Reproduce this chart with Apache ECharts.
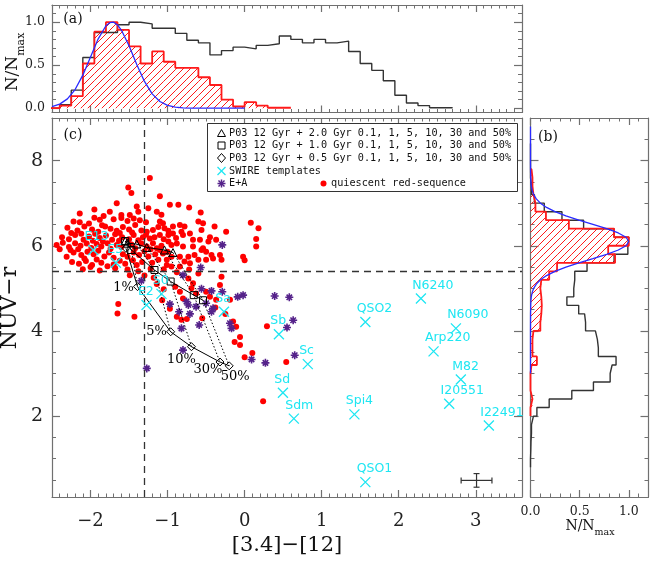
<!DOCTYPE html>
<html>
<head>
<meta charset="utf-8">
<script src="https://cdn.jsdelivr.net/npm/echarts/dist/echarts.min.js"></script>
<style>
  html, body { margin: 0; padding: 0; background: #fff; }
  #chart { width: 654px; height: 565px; }
</style>
</head>
<body>
<div id="chart"></div>
<script>
// ---------- data ----------
// (a) [3.4]-[12] histograms, bins of 0.15 starting at -2.55
const colourBinStart = -2.55, colourBinWidth = 0.15;
const allColour = [0, 0.04, 0.21, 0.59, 0.88, 0.88, 0.97, 1.00, 0.98, 0.93, 0.93, 0.87, 0.79, 0.76, 0.62,
  0.67, 0.71, 0.69, 0.73, 0.75, 0.84, 0.80, 0.76, 0.80, 0.76, 0.78, 0.66, 0.52, 0.44, 0.32, 0.15,
  0.06, 0.03, 0.005, 0.005];
const redColour = [0, 0.03, 0.14, 0.52, 0.89, 1.00, 0.91, 0.72, 0.52, 0.66, 0.54, 0.47, 0.47, 0.36,
  0.27, 0.10, 0.02, 0.07, 0.03, 0.005, 0.005];
const colourFitX = [-2.5, -2.4, -2.3, -2.2, -2.1, -2.0, -1.9, -1.8, -1.75, -1.7, -1.65, -1.6, -1.5, -1.4,
  -1.3, -1.2, -1.1, -1.0, -0.9, -0.8, -0.7, -0.6, -0.4, -0.2, 0.0];
const colourFitY = [0.018, 0.047, 0.108, 0.217, 0.384, 0.595, 0.807, 0.959, 0.994, 1.0, 0.968, 0.909,
  0.726, 0.508, 0.311, 0.167, 0.078, 0.032, 0.012, 0.004, 0.001, 0, 0, 0, 0];

// (b) NUV-r histograms, bins of 0.2
const nuvBinStart = 0.8, nuvBinWidth = 0.2;
const allNuv = [0, 0.003, 0.005, 0.01, 0.01, 0.03, 0.065, 0.19, 0.42, 0.64, 0.81, 0.83, 0.87, 0.69,
  0.68, 0.66, 0.56, 0.55, 0.49, 0.37, 0.44, 0.45, 0.45, 0.575, 0.85, 0.99, 1.0, 0.85, 0.54, 0.32,
  0.14, 0.04, 0.01, 0, 0, 0, 0, 0];
const redNuvStart = 2.0;
const redNuv = [0, 0.02, 0, 0, 0, 0.01, 0.065, 0.02, 0.02, 0.03, 0.10, 0.11, 0.115, 0.11, 0.10, 0.11,
  0.19, 0.27, 0.86, 0.79, 1.0, 0.85, 0.39, 0.157, 0.05, 0.03, 0.02, 0.02, 0.01];
const nuvFitY = [8.8, 8.4, 8.0, 7.8, 7.6, 7.5, 7.4, 7.3, 7.2, 7.1, 7.0, 6.9, 6.8, 6.7, 6.6, 6.5, 6.4,
  6.3, 6.2, 6.1, 6.0, 5.9, 5.8, 5.7, 5.6, 5.5, 5.4, 5.3, 5.2, 5.1, 5.0, 4.9, 4.8, 4.7, 4.6, 4.4, 4.0, 3.5, 3.0];
const nuvFitV = [0, 0, 0, 0.0005, 0.002, 0.004, 0.008, 0.017, 0.032, 0.059, 0.101, 0.163, 0.249, 0.36,
  0.492, 0.635, 0.775, 0.893, 0.972, 1.0, 0.972, 0.893, 0.775, 0.635, 0.492, 0.36, 0.249, 0.163, 0.101,
  0.059, 0.032, 0.017, 0.008, 0.004, 0.002, 0.0005, 0, 0, 0];

// (c) colour-colour diagram
const quiescent = [
  [-1.23,7.59],[-1.51,7.37],[-1.47,7.24],[-1.10,7.16],[-1.66,7.00],[-1.40,6.92],[-0.97,6.96],[-0.86,6.96],
  [-0.72,6.90],[-1.25,6.88],[-1.95,6.85],[-1.38,6.80],[-1.14,6.80],[-0.57,6.78],[-2.14,6.76],[-1.75,6.80],
  [-1.60,6.72],[-1.49,6.72],[-1.08,6.73],[-1.83,6.70],
  [-2.22,6.57],[-2.14,6.55],[-1.88,6.61],[-1.70,6.62],[-1.60,6.65],[-1.52,6.58],[-1.36,6.60],[-1.28,6.55],
  [-1.10,6.57],[-1.06,6.53],[-0.84,6.49],[-0.60,6.57],[-0.54,6.53],[-2.02,6.52],[-1.95,6.66],[-1.44,6.64],[0.08,6.54],
  [-2.30,6.42],[-2.08,6.45],[-1.98,6.38],[-1.90,6.33],[-1.81,6.45],[-1.74,6.40],[-1.66,6.35],[-1.58,6.44],
  [-1.50,6.38],[-1.42,6.49],[-1.34,6.36],[-1.27,6.33],[-1.19,6.37],[-1.04,6.41],[-0.93,6.45],[-0.78,6.45],
  [-0.82,6.33],[-0.71,6.29],[-0.56,6.37],[-0.39,6.45],[-0.24,6.33],[-2.17,6.36],[-1.85,6.48],[-1.62,6.30],
  [-1.46,6.31],[-1.12,6.44],[-0.99,6.35],[0.18,6.41],
  [-2.37,6.20],[-2.28,6.15],[-2.20,6.25],[-2.09,6.14],[-2.02,6.22],[-1.94,6.28],[-1.88,6.18],[-1.80,6.24],
  [-1.72,6.14],[-1.68,6.27],[-1.59,6.20],[-1.50,6.15],[-1.44,6.25],[-1.32,6.20],[-1.23,6.17],[-1.17,6.20],
  [-1.10,6.25],[-0.99,6.25],[-0.93,6.29],[-0.89,6.18],[-0.80,6.25],[-0.67,6.14],[-0.58,6.14],[-0.45,6.20],
  [-0.37,6.14],[-2.12,6.28],[-1.97,6.12],[-1.84,6.10],[-1.63,6.12],[-1.38,6.13],[-1.28,6.26],[-1.05,6.15],
  [-2.25,6.30],[0.15,6.16],
  [-2.44,6.02],[-2.36,6.07],[-2.28,5.97],[-2.20,6.06],[-2.13,6.00],[-2.05,6.05],[-1.99,5.95],[-1.92,6.04],
  [-1.86,5.98],[-1.78,6.06],[-1.74,5.93],[-1.66,6.02],[-1.60,5.97],[-1.47,6.03],[-1.42,5.94],[-1.34,6.05],
  [-1.27,5.98],[-1.19,6.06],[-1.14,5.94],[-0.99,6.10],[-0.95,6.02],[-0.80,5.98],[-0.67,5.98],[-0.54,5.94],
  [-0.47,6.10],[-2.40,5.92],[-1.22,5.92],[-1.08,6.00],[-0.88,6.05],[0.15,5.98],
  [-2.31,5.74],[-2.22,5.84],[-2.16,5.92],[-2.12,5.78],[-2.04,5.86],[-1.96,5.80],[-1.90,5.88],[-1.82,5.75],
  [-1.76,5.84],[-1.58,5.80],[-1.52,5.74],[-1.44,5.84],[-1.37,5.78],[-1.30,5.87],[-1.25,5.75],[-1.10,5.90],
  [-1.06,5.82],[-0.95,5.74],[-0.84,5.74],[-0.73,5.74],[-0.65,5.78],[-0.56,5.90],[-0.50,5.86],[-0.43,5.78],
  [-0.32,5.78],[-0.02,5.74],[-2.08,5.70],[-1.70,5.72],[-1.16,5.80],[-1.00,5.86],[-0.41,5.70],[-2.26,5.90],
  [-2.24,5.62],[-2.15,5.58],[-2.06,5.64],[-1.98,5.55],[-1.92,5.68],[-1.86,5.60],[-1.78,5.52],[-1.62,5.65],
  [-1.55,5.58],[-1.45,5.66],[-1.40,5.55],[-1.33,5.62],[-1.20,5.60],[-1.12,5.67],[-1.01,5.67],[-0.78,5.63],
  [-0.71,5.59],[-0.60,5.67],[-0.50,5.67],[-0.30,5.67],[0.00,5.66],[-0.95,5.51],[-0.84,5.51],[-1.01,5.55],
  [-1.70,5.56],[-2.00,5.50],
  [-2.10,5.45],[-1.88,5.42],[-1.68,5.47],[-1.52,5.44],[-1.49,5.31],[-1.38,5.40],[-1.22,5.46],[-1.05,5.45],
  [-0.88,5.38],[-0.72,5.44],[-0.60,5.35],
  [-1.64,4.63],[-1.65,4.41],[-1.43,4.33],[-1.30,5.30],[-1.18,5.25],[-1.14,5.10],[-1.05,4.98],[-0.90,5.04],
  [-0.84,4.92],[-0.80,4.76],[-0.73,5.23],[-0.67,5.12],[-0.69,5.00],[-0.63,4.88],[-0.88,4.33],[-0.82,4.26],
  [-0.75,4.28],[-0.50,4.92],[-0.45,4.80],[-0.37,4.73],[-0.30,5.27],[-0.32,5.08],[-0.19,4.73],[-0.15,4.22],
  [-0.11,4.10],[-0.06,3.86],[-0.13,3.74],[-0.06,3.67],[0.10,3.48],[0.00,3.38],[0.29,4.11],[0.54,3.27],
  [0.24,2.35],[-1.07,4.72],[-0.97,4.52],[-0.25,4.40],[-0.38,4.55],[-0.55,4.30]
];
const eaPoints = [
  [-0.29,6.02],[-0.57,5.49],[-0.80,5.31],[-1.34,5.18],[-0.56,4.99],[-0.43,4.94],[-0.29,4.92],[-0.09,4.80],
  [-0.02,4.84],[-0.97,4.63],[-0.755,4.69],[-0.73,4.61],[-0.63,4.57],[-0.50,4.65],[-0.41,4.53],[-0.43,4.45],
  [-0.85,4.45],[-0.71,4.40],[-0.59,4.14],[-0.82,4.06],[-0.19,4.18],[-0.17,4.06],[-0.80,3.55],[0.09,3.33],
  [-1.27,3.12],[0.39,4.82],[0.58,4.79],[0.63,4.25],[0.55,4.08],[0.27,3.25],[0.65,3.43]
];
const swireNames = ['E13','E5','E2','S0','Sa','Sb','Sc','Sd','Sdm','Spi4','QSO2','QSO1','N6240','N6090','Arp220','M82','I20551','I22491'];
const swireX = [-1.965,-1.671,-1.273,-1.079,-0.268,0.445,0.820,0.497,0.639,1.425,1.567,1.567,2.288,2.742,2.452,2.806,2.655,3.17];
const swireY = [5.90,5.60,4.61,4.87,4.45,3.92,3.22,2.55,1.94,2.04,4.21,0.45,4.76,4.06,3.52,2.86,2.29,1.78];

// P03 tracks: 0.1, 1, 5, 10, 30, 50 %
const triX = [-1.55,-1.52,-1.40,-1.27,-1.04,-0.93], triY = [6.11,6.06,6.04,5.96,5.90,5.84];
const sqX  = [-1.55,-1.47,-1.17,-0.96,-0.66,-0.54], sqY  = [6.11,5.90,5.43,5.16,4.84,4.72];
const diaX = [-1.54,-1.39,-0.96,-0.69,-0.32,-0.20], diaY = [5.94,5.04,3.98,3.63,3.27,3.18];
const pctNames = ['1%', '5%', '10%', '30%', '50%'];

const errX = 3.01, errY = 0.49, errDx = 0.2, errDy = 0.16;
const colourCut = -1.3, nuvCut = 5.4;

const colourTicks = [-2, -1, 0, 1, 2, 3];
const nuvTicks = [2, 4, 6, 8];
const fracTicks = [0, 0.5, 1.0];

const legendTexts = [
  'P03 12 Gyr + 2.0 Gyr 0.1, 1, 5, 10, 30 and 50%',
  'P03 12 Gyr + 1.0 Gyr 0.1, 1, 5, 10, 30 and 50%',
  'P03 12 Gyr + 0.5 Gyr 0.1, 1, 5, 10, 30 and 50%',
  'SWIRE templates', 'E+A', 'quiescent red-sequence'
];

// ---------- helpers ----------
const SERIF = '"DejaVu Serif", serif';
const SANS = '"DejaVu Sans", sans-serif';
const MONO = '"DejaVu Sans Mono", monospace';
const FRAME = '#707070';
const RED = '#ff1a1a', CYAN = '#1ee6f2', PURPLE = '#55228a', BLUE = '#2a2aff';

function steps(a, b, d) {
  const out = [];
  for (let i = 0; a + i * d <= b + 1e-9; i++) out.push(Math.round((a + i * d) * 1000) / 1000);
  return out;
}
function edges(start, width, n) {
  return steps(start, start + width * n, width);
}
function outline(e, vals) {
  const pts = [[e[0], 0]];
  vals.forEach((v, i) => { pts.push([e[i], v], [e[i + 1], v]); });
  pts.push([e[vals.length], 0]);
  return pts;
}
const minus = v => String(v).replace('-', '\u2212');

const hatchCanvas = (function () {
  const s = 7, c = document.createElement('canvas');
  c.width = s; c.height = s;
  const ctx = c.getContext('2d');
  ctx.strokeStyle = RED;
  ctx.lineWidth = 1;
  ctx.beginPath();
  ctx.moveTo(0, s); ctx.lineTo(s, 0);
  ctx.moveTo(-1, 1); ctx.lineTo(1, -1);
  ctx.moveTo(s - 1, s + 1); ctx.lineTo(s + 1, s - 1);
  ctx.stroke();
  return c;
})();
const hatch = { image: hatchCanvas, repeat: 'repeat' };

function side(dim, grid, pos, min, max, major, minor, label) {
  const len = dim === 'x' ? [7, 3.5] : [8, 4];
  const base = { type: 'value', gridIndex: grid, position: pos, min: min, max: max, splitLine: { show: false } };
  return [
    Object.assign({}, base, {
      axisLine: { show: true, onZero: false, lineStyle: { color: FRAME, width: 1.2 } },
      axisTick: { show: true, inside: true, length: len[0], customValues: major, lineStyle: { color: FRAME, width: 1.2 } },
      axisLabel: label ? Object.assign({ show: true, customValues: major }, label) : { show: false }
    }),
    Object.assign({}, base, {
      axisLine: { show: false, onZero: false },
      axisTick: { show: true, inside: true, length: len[1], customValues: minor, lineStyle: { color: FRAME, width: 1 } },
      axisLabel: { show: false }
    })
  ];
}

const X0 = -2.5, X1 = 3.6, Y0 = 0.1, Y1 = 9.0;
const colourMinor = steps(-2.4, 3.5, 0.1);
const nuvMinor = steps(0.5, 8.5, 0.5);
const fracMinor = steps(0, 1.2, 0.1);

const xAxes = [].concat(
  side('x', 0, 'bottom', X0, X1, colourTicks, colourMinor, null),
  side('x', 0, 'top', X0, X1, colourTicks, colourMinor, null),
  side('x', 1, 'bottom', X0, X1, colourTicks, colourMinor,
    { margin: 15, color: '#222', fontFamily: SERIF, fontSize: 18, formatter: minus }),
  side('x', 1, 'top', X0, X1, colourTicks, colourMinor, null),
  side('x', 2, 'bottom', 0, 1.2, fracTicks, fracMinor,
    { margin: 8, color: '#222', fontFamily: SERIF, fontSize: 12.5, formatter: v => v.toFixed(1) }),
  side('x', 2, 'top', 0, 1.2, fracTicks, fracMinor, null)
);
const yAxes = [].concat(
  side('y', 0, 'left', -0.05, 1.2, fracTicks, fracMinor,
    { margin: 7, color: '#222', fontFamily: SERIF, fontSize: 12.5, formatter: v => v.toFixed(1) }),
  side('y', 0, 'right', -0.05, 1.2, fracTicks, fracMinor, null),
  side('y', 1, 'left', Y0, Y1, nuvTicks, nuvMinor,
    { margin: 9, color: '#222', fontFamily: SERIF, fontSize: 19 }),
  side('y', 1, 'right', Y0, Y1, nuvTicks, nuvMinor, null),
  side('y', 2, 'left', Y0, Y1, nuvTicks, nuvMinor, null),
  side('y', 2, 'right', Y0, Y1, nuvTicks, nuvMinor, null)
);
const A = 0, C = 4, B = 8;   // main axis index of each panel

// ---------- series ----------
const cEdges = edges(colourBinStart, colourBinWidth, allColour.length);
const nEdges = edges(nuvBinStart, nuvBinWidth, allNuv.length);
const rnEdges = edges(redNuvStart, nuvBinWidth, redNuv.length);

const histLine = (data, ax, color, width, z) => ({
  type: 'line', xAxisIndex: ax, yAxisIndex: ax, data: data, symbol: 'none', silent: true,
  lineStyle: { color: color, width: width }, z: z
});

const series = [
  // (a)
  {
    type: 'custom', xAxisIndex: A, yAxisIndex: A, silent: true, z: 1,
    data: redColour.map((v, i) => [cEdges[i], cEdges[i + 1], v]),
    encode: { x: [0, 1], y: 2 },
    renderItem: (params, api) => {
      const p0 = api.coord([api.value(0), 0]);
      const p1 = api.coord([api.value(1), api.value(2)]);
      return { type: 'rect', shape: { x: p0[0], y: p1[1], width: p1[0] - p0[0], height: p0[1] - p1[1] }, style: { fill: hatch } };
    }
  },
  histLine(outline(cEdges, allColour), A, '#333', 1.4, 2),
  histLine(outline(cEdges, redColour), A, RED, 1.8, 3),
  histLine(colourFitX.map((x, i) => [x, colourFitY[i]]), A, BLUE, 1.3, 4),
  // (b)
  {
    type: 'custom', xAxisIndex: B, yAxisIndex: B, silent: true, z: 1,
    data: redNuv.map((v, i) => [rnEdges[i], rnEdges[i + 1], v]),
    encode: { y: [0, 1], x: 2 },
    renderItem: (params, api) => {
      const p0 = api.coord([0, api.value(0)]);
      const p1 = api.coord([api.value(2), api.value(1)]);
      return { type: 'rect', shape: { x: p0[0], y: p1[1], width: p1[0] - p0[0], height: p0[1] - p1[1] }, style: { fill: hatch } };
    }
  },
  histLine(outline(nEdges, allNuv).map(p => [p[1], p[0]]), B, '#333', 1.4, 2),
  histLine(outline(rnEdges, redNuv).map(p => [p[1], p[0]]), B, RED, 1.8, 3),
  histLine(nuvFitY.map((y, i) => [nuvFitV[i], y]), B, BLUE, 1.3, 4),
  // (c)
  {
    type: 'scatter', xAxisIndex: C, yAxisIndex: C, data: quiescent, symbol: 'circle', symbolSize: 6,
    itemStyle: { color: '#ff0000', opacity: 1 }, z: 2, silent: true
  },
  {
    type: 'scatter', xAxisIndex: C, yAxisIndex: C, data: eaPoints, silent: true, z: 3,
    symbol: 'path://M0 5L10 5M5 0L5 10M1.6 1.6L8.4 8.4M8.4 1.6L1.6 8.4', symbolSize: 8,
    itemStyle: { color: 'rgba(0,0,0,0)', borderColor: PURPLE, borderWidth: 1.6, opacity: 1 }
  }
];

// dotted lines joining equal burst fractions
for (let i = 1; i < triX.length; i++) {
  series.push({
    type: 'line', xAxisIndex: C, yAxisIndex: C, symbol: 'none', silent: true, z: 4,
    data: [[triX[i], triY[i]], [sqX[i], sqY[i]], [diaX[i], diaY[i]]],
    lineStyle: { color: '#000', width: 1, type: [1.5, 2] }
  });
}
const track = (xs, ys, sym, size) => ({
  type: 'line', xAxisIndex: C, yAxisIndex: C, silent: true, z: 5,
  data: xs.map((x, i) => [x, ys[i]]), symbol: sym, symbolSize: size, showSymbol: true,
  lineStyle: { color: '#000', width: 1 },
  itemStyle: { color: 'rgba(0,0,0,0)', borderColor: '#000', borderWidth: 1, opacity: 1 }
});
series.push(track(triX, triY, 'triangle', 8));
series.push(track(sqX, sqY, 'rect', 7));
const diaTrack = track(diaX, diaY, 'diamond', 8);
diaTrack.markLine = {
  silent: true, symbol: ['none', 'none'], label: { show: false }, animation: false,
  lineStyle: { color: '#333', width: 1.3, type: [7, 5] },
  data: [{ xAxis: colourCut }, { yAxis: nuvCut }]
};
series.push(diaTrack);

const pctOffsets = [[-14, 1], [-14, 0], [-10, 13], [-12, 8], [6, 11]];
series.push({
  type: 'scatter', xAxisIndex: C, yAxisIndex: C, silent: true, z: 6, symbolSize: 1,
  itemStyle: { color: 'rgba(0,0,0,0)', opacity: 1 },
  data: pctNames.map((n, i) => ({
    name: n, value: [diaX[i + 1], diaY[i + 1]],
    label: { offset: pctOffsets[i] }
  })),
  label: {
    show: true, position: 'inside', formatter: '{b}', color: '#000', textBorderWidth: 0,
    fontFamily: SERIF, fontSize: 13
  }
});

series.push({
  type: 'scatter', xAxisIndex: C, yAxisIndex: C, silent: true, z: 20, zlevel: 1,
  data: swireNames.map((n, i) => ({ name: n, value: [swireX[i], swireY[i]] })),
  symbol: 'path://M0 0L10 10M10 0L0 10', symbolSize: 10,
  itemStyle: { color: 'rgba(0,0,0,0)', borderColor: CYAN, borderWidth: 1.3, opacity: 1 },
  label: {
    show: true, position: [-3, -14], align: 'left', verticalAlign: 'top', formatter: '{b}',
    color: CYAN, textBorderWidth: 0, fontFamily: SANS, fontSize: 12.5
  },
  labelLayout: { hideOverlap: false }
});

series.push({
  type: 'custom', xAxisIndex: C, yAxisIndex: C, silent: true, z: 7,
  data: [[errX, errY, errDx, errDy]], encode: { x: 0, y: 1 },
  renderItem: (params, api) => {
    const x = api.value(0), y = api.value(1), dx = api.value(2), dy = api.value(3);
    const l = api.coord([x - dx, y]), r = api.coord([x + dx, y]);
    const t = api.coord([x, y + dy]), b = api.coord([x, y - dy]);
    const st = { stroke: '#333', lineWidth: 1.2 };
    const ln = (x1, y1, x2, y2) => ({ type: 'line', shape: { x1: x1, y1: y1, x2: x2, y2: y2 }, style: st });
    return {
      type: 'group', children: [
        ln(l[0], l[1], r[0], r[1]), ln(t[0], t[1], b[0], b[1]),
        ln(l[0], l[1] - 3, l[0], l[1] + 3), ln(r[0], r[1] - 3, r[0], r[1] + 3),
        ln(t[0] - 3, t[1], t[0] + 3, t[1]), ln(b[0] - 3, b[1], b[0] + 3, b[1])
      ]
    };
  }
});

// ---------- graphic: legend, titles ----------
const graphic = [];
const gtext = (x, y, text, size, font, extra) => graphic.push(Object.assign({
  type: 'text', x: x, y: y, z: 100,
  style: { text: text, fontSize: size, fontFamily: font, fill: '#111', align: 'center', verticalAlign: 'middle' }
}, extra || {}));

graphic.push({ type: 'rect', z: 90, shape: { x: 207.5, y: 123.5, width: 310, height: 68 },
  style: { fill: '#fff', stroke: '#333', lineWidth: 1 } });
const rowY = [133.5, 145.5, 158, 171, 183.5];
const sx = 221.5;
const ln = (x1, y1, x2, y2, c, w) => graphic.push({ type: 'line', z: 101, shape: { x1: x1, y1: y1, x2: x2, y2: y2 }, style: { stroke: c, lineWidth: w } });
graphic.push({ type: 'polygon', z: 101, shape: { points: [[sx, rowY[0] - 4], [sx + 4, rowY[0] + 3], [sx - 4, rowY[0] + 3]] }, style: { fill: 'none', stroke: '#000', lineWidth: 1 } });
graphic.push({ type: 'rect', z: 101, shape: { x: sx - 3.5, y: rowY[1] - 3.5, width: 7, height: 7 }, style: { fill: 'none', stroke: '#000', lineWidth: 1 } });
graphic.push({ type: 'polygon', z: 101, shape: { points: [[sx, rowY[2] - 4.5], [sx + 4, rowY[2]], [sx, rowY[2] + 4.5], [sx - 4, rowY[2]]] }, style: { fill: 'none', stroke: '#000', lineWidth: 1 } });
ln(sx - 4, rowY[3] - 4, sx + 4, rowY[3] + 4, CYAN, 1.3);
ln(sx + 4, rowY[3] - 4, sx - 4, rowY[3] + 4, CYAN, 1.3);
ln(sx - 4, rowY[4], sx + 4, rowY[4], PURPLE, 1.5);
ln(sx, rowY[4] - 4, sx, rowY[4] + 4, PURPLE, 1.5);
ln(sx - 3, rowY[4] - 3, sx + 3, rowY[4] + 3, PURPLE, 1.5);
ln(sx + 3, rowY[4] - 3, sx - 3, rowY[4] + 3, PURPLE, 1.5);
graphic.push({ type: 'circle', z: 101, shape: { cx: 323.5, cy: rowY[4], r: 3 }, style: { fill: '#ff0000' } });
legendTexts.forEach((t, i) => {
  const x = i < 5 ? 229 : 331;
  const y = rowY[Math.min(i, 4)];
  graphic.push({ type: 'text', x: x, y: y, z: 101,
    style: { text: t, fontSize: 10.2, fontFamily: MONO, fill: '#111', align: 'left', verticalAlign: 'middle' } });
});

gtext(73, 19, '(a)', 14, SERIF);
gtext(73, 135, '(c)', 14, SERIF);
gtext(548, 137, '(b)', 14, SERIF);
gtext(287, 546, '[3.4]\u2212[12]', 21, SERIF);
gtext(10, 308, 'NUV\u2212r', 22, SERIF, { rotation: Math.PI / 2 });
const nmax = (size, sub) => ({
  text: '{n|N/N}{s|max}',
  rich: {
    n: { fontSize: size, fontFamily: SERIF, fill: '#111', lineHeight: size + 2 },
    s: { fontSize: sub, fontFamily: SERIF, fill: '#111', verticalAlign: 'bottom', lineHeight: sub + 2, padding: [0, 0, -4, 0] }
  },
  align: 'center', verticalAlign: 'middle'
});
graphic.push({ type: 'text', x: 13, y: 62, z: 100, rotation: Math.PI / 2, style: nmax(17, 11) });
graphic.push({ type: 'text', x: 590, y: 526, z: 100, style: nmax(14, 9.5) });

// ---------- chart ----------
const chart = echarts.init(document.getElementById('chart'), null, { renderer: 'canvas' });
chart.setOption({
  animation: false,
  backgroundColor: '#fff',
  textStyle: { fontFamily: SERIF },
  grid: [
    { left: 52, top: 5, width: 470, height: 107.5, outerBoundsMode: 'none' },
    { left: 52, top: 118, width: 470, height: 379, outerBoundsMode: 'none' },
    { left: 530.5, top: 118, width: 118, height: 379, outerBoundsMode: 'none' }
  ],
  xAxis: xAxes,
  yAxis: yAxes,
  series: series,
  graphic: graphic
});
</script>
</body>
</html>
